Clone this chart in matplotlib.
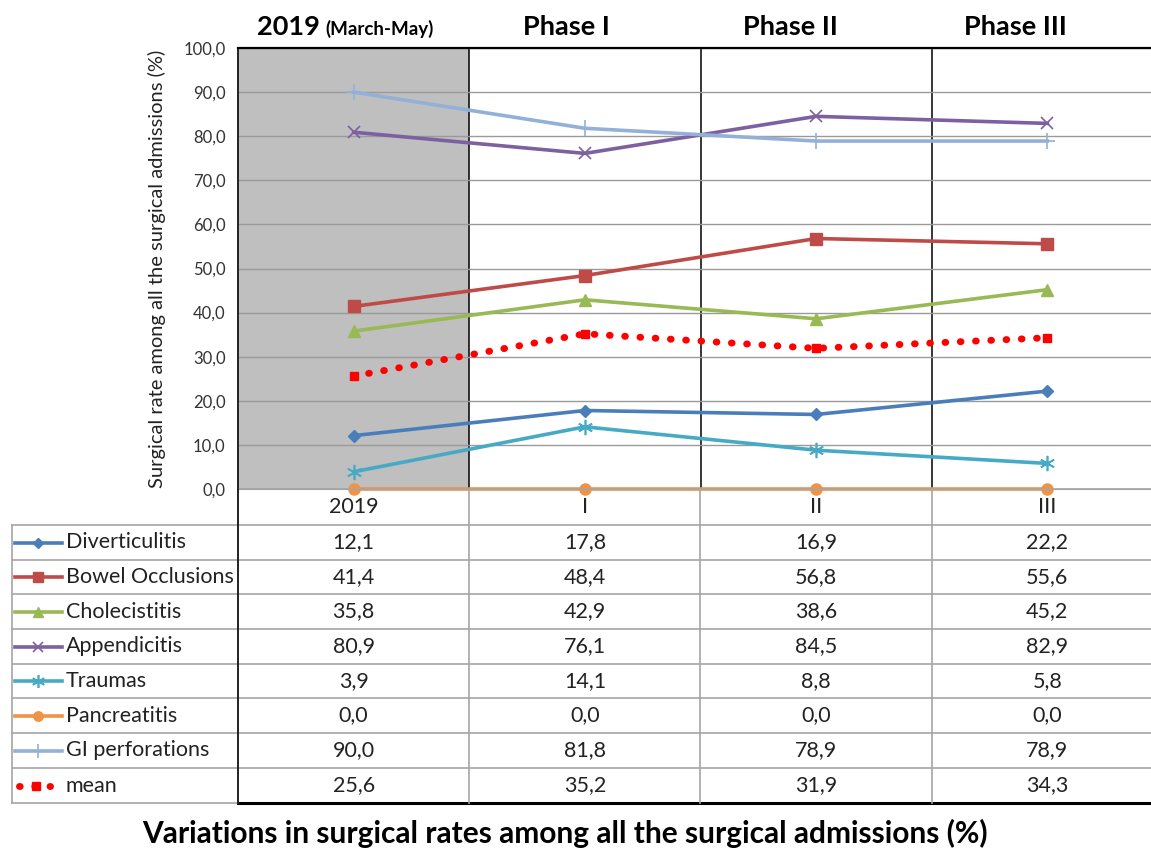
import matplotlib
matplotlib.use("Agg")
import matplotlib.pyplot as plt

plt.rcParams["font.family"] = ["Lato", "DejaVu Sans"]

# ---------- data ----------
periods = ["2019", "I", "II", "III"]
phase_titles = ["2019", "Phase I", "Phase II", "Phase III"]

diverticulitis = [12.1, 17.8, 16.9, 22.2]
bowel_occlusions = [41.4, 48.4, 56.8, 55.6]
cholecistitis = [35.8, 42.9, 38.6, 45.2]
appendicitis = [80.9, 76.1, 84.5, 82.9]
traumas = [3.9, 14.1, 8.8, 5.8]
pancreatitis = [0.0, 0.0, 0.0, 0.0]
gi_perforations = [90.0, 81.8, 78.9, 78.9]
mean_rate = [25.6, 35.2, 31.9, 34.3]

series = [
    ("Diverticulitis", diverticulitis, "#4A7EBB", "D", 6),
    ("Bowel Occlusions", bowel_occlusions, "#BE4B48", "s", 8),
    ("Cholecistitis", cholecistitis, "#98B954", "^", 8),
    ("Appendicitis", appendicitis, "#7D60A0", "x", 9),
    ("Traumas", traumas, "#46AAC5", (6, 2, 0), 11),
    ("Pancreatitis", pancreatitis, "#F29245", "o", 8),
    ("GI perforations", gi_perforations, "#93B1D7", "+", 12),
]

MEAN_STYLE = dict(color="#FF0000", lw=5, ls=(0, (0.1, 2.1)),
                  dash_capstyle="round")
TXT = "#222222"

# ---------- layout (pixels) ----------
W, H = 1151, 850
x_left, x_right = 238, 1163
y_top, y_bot = 48, 489
col_w = (x_right - x_left) / len(periods)
row_edges = [489, 525, 560, 594, 629, 664, 698, 733, 768, 803]


def frame(x0, y0, x1, y1):
    return [x0 / W, 1 - y1 / H, (x1 - x0) / W, (y1 - y0) / H]


def comma(v):
    return f"{v:.1f}".replace(".", ",")


fig = plt.figure(figsize=(W / 100, H / 100), dpi=100)
ax = fig.add_axes(frame(x_left, y_top, x_right, y_bot))

xs = list(range(len(periods)))
ax.set_xlim(-0.5, len(periods) - 0.5)
ax.set_ylim(0, 100)

# shaded pre-pandemic column
ax.axvspan(-0.5, 0.5, color="#BFBFBF", zorder=0, lw=0)
ax.set_yticks(range(0, 101, 10))
ax.set_yticklabels([comma(v) for v in range(0, 101, 10)], fontsize=12, color="#333333")
ax.tick_params(axis="y", length=0, pad=9)
ax.set_xticks([])
ax.grid(axis="y", color="#9A9A9A", lw=1, zorder=1)
for b in [0.5, 1.5, 2.5]:
    ax.axvline(b, color="black", lw=1.1, zorder=1)

for name, vals, color, mk, ms in series:
    mew = 1.2 if mk in ("x", "+", (6, 2, 0)) else 1
    ax.plot(xs, vals, color=color, lw=2.6, marker=mk, ms=ms, mew=mew,
            mec=color, mfc=color, zorder=3, clip_on=False)

ax.plot(xs, mean_rate, marker="s", ms=6, mfc="#FF0000", mec="#FF0000",
        zorder=4, clip_on=False, **MEAN_STYLE)

ax.spines["right"].set_visible(False)
ax.spines["top"].set_color("black")
ax.spines["top"].set_linewidth(1.6)
ax.spines["left"].set_color(TXT)
ax.spines["left"].set_linewidth(1.4)
ax.spines["bottom"].set_color("#9A9A9A")

ax.set_ylabel("Surgical rate among all the surgical admissions (%)",
              fontsize=14.5, color=TXT)
ax.yaxis.set_label_coords(-0.078, 0.5)

# ---------- data table under the chart ----------
ov = fig.add_axes([0, 0, 1, 1], zorder=5)
ov.set_xlim(0, W)
ov.set_ylim(H, 0)
ov.axis("off")

grey = "#A6A6A6"
ov.plot([x_left, W], [row_edges[0]] * 2, color=grey, lw=1.2)
for y in row_edges[1:-1]:
    ov.plot([12, W], [y, y], color=grey, lw=1.2)
ov.plot([12, x_left], [row_edges[-1]] * 2, color=grey, lw=1.2)
ov.plot([x_left, W], [row_edges[-1]] * 2, color="black", lw=2.2)
ov.plot([12, 12], [row_edges[1], row_edges[-1]], color=grey, lw=1.2)
ov.plot([x_left, x_left], [row_edges[0], row_edges[-1]], color=TXT, lw=1.4)
for i in range(1, len(periods)):
    x = x_left + i * col_w
    ov.plot([x, x], [row_edges[0], row_edges[-1]], color=grey, lw=1.2)

centers = [x_left + (i + 0.5) * col_w for i in range(len(periods))]
yc = (row_edges[0] + row_edges[1]) / 2
for cx, p in zip(centers, periods):
    ov.text(cx, yc, p, ha="center", va="center", fontsize=15.5, color=TXT)

rows = list(series) + [("mean", mean_rate, "#FF0000", None, None)]
for r, (name, vals, color, mk, ms) in enumerate(rows):
    yc = (row_edges[r + 1] + row_edges[r + 2]) / 2
    if mk is None:
        ov.plot([19, 50], [yc, yc], **MEAN_STYLE)
        ov.plot([36], [yc], color=color, marker="s", ms=6)
    else:
        mew = 1.2 if mk in ("x", "+", (6, 2, 0)) else 1
        ov.plot([15, 62], [yc, yc], color=color, lw=2.6)
        ov.plot([38.5], [yc], color=color, marker=mk, ms=ms * 0.85, mew=mew,
                mfc=color, mec=color)
    ov.text(66, yc, name, ha="left", va="center", fontsize=15.5, color=TXT)
    for cx, v in zip(centers, vals):
        ov.text(cx, yc, comma(v), ha="center", va="center", fontsize=15.5, color=TXT)

# phase headers above the chart
ov.text(257, 27, phase_titles[0], ha="left", va="center", fontsize=19.5,
        fontweight="bold", color="black")
ov.text(325, 29, "(March-May)", ha="left", va="center", fontsize=13.5,
        fontweight="bold", color="black")
for cx, t in zip([566, 790, 1015], phase_titles[1:]):
    ov.text(cx, 27, t, ha="center", va="center", fontsize=19.5,
            fontweight="bold", color="black")

ov.text(565, 833, "Variations in surgical rates among all the surgical admissions (%)",
        ha="center", va="center", fontsize=21.5, fontweight="bold", color="black")

fig.savefig("out.png", dpi=100)
